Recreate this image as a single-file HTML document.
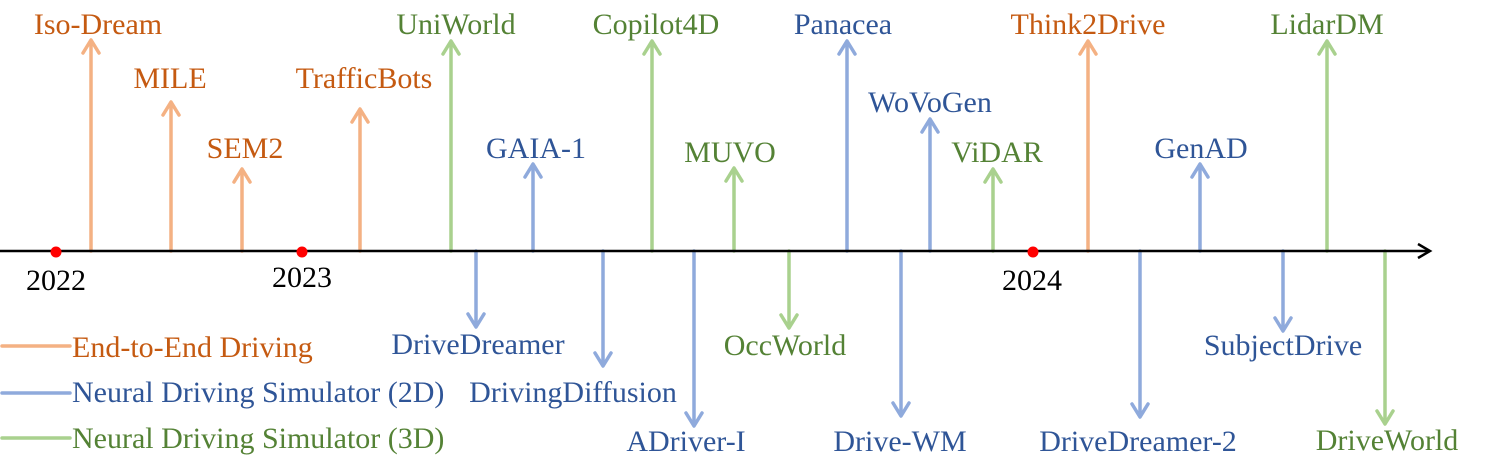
<!DOCTYPE html>
<html><head><style>html,body{margin:0;padding:0;background:#fff;}svg{display:block;}</style></head>
<body>
<svg width="1488" height="467" xmlns="http://www.w3.org/2000/svg" font-family="Liberation Serif, serif" font-size="30">
<g stroke-width="3.5" fill="none" stroke-linecap="round" stroke-linejoin="round">
<g stroke="#f4b183">
<path d="M91 251V42M83 53L91 40L99 53"/>
<path d="M171 251V104M163 115L171 102L179 115"/>
<path d="M242 251V171M234 182L242 169L250 182"/>
<path d="M360 251V111M352 122L360 109L368 122"/>
<path d="M1088 251V43M1080 54L1088 41L1096 54"/>
</g>
<g stroke="#a9d18e">
<path d="M451 251V43M443 54L451 41L459 54"/>
<path d="M652 251V43M644 54L652 41L660 54"/>
<path d="M734 251V170M726 181L734 168L742 181"/>
<path d="M993 251V171M985 182L993 169L1001 182"/>
<path d="M1327 251V43M1319 54L1327 41L1335 54"/>
<path d="M789 251V326M781 315L789 328L797 315"/>
<path d="M1385 251V422M1377 411L1385 424L1393 411"/>
</g>
<g stroke="#8faadc">
<path d="M533 251V166M525 177L533 164L541 177"/>
<path d="M847 251V43M839 54L847 41L855 54"/>
<path d="M930 251V121M922 132L930 119L938 132"/>
<path d="M1200 251V166M1192 177L1200 164L1208 177"/>
<path d="M476 251V325M468 314L476 327L484 314"/>
<path d="M603 251V364M595 353L603 366L611 353"/>
<path d="M694 251V424M686 413L694 426L702 413"/>
<path d="M901 251V414M893 403L901 416L909 403"/>
<path d="M1140 251V415M1132 404L1140 417L1148 404"/>
<path d="M1283 251V329M1275 318L1283 331L1291 318"/>
</g>
<path d="M2 346H70" stroke="#f4b183"/>
<path d="M2 393H70" stroke="#8faadc"/>
<path d="M2 438H70" stroke="#a9d18e"/>
</g>
<path d="M0 251H1428" stroke="#000" stroke-width="2.5"/>
<path d="M1418 244L1430 251L1418 258" stroke="#000" stroke-width="2.5" fill="none"/>
<circle cx="56" cy="252" r="5.5" fill="#ff0000"/>
<circle cx="302" cy="252" r="5.5" fill="#ff0000"/>
<circle cx="1033" cy="252" r="5.5" fill="#ff0000"/>
<g text-anchor="middle" fill="#000">
<text x="56" y="290">2022</text>
<text x="302" y="287">2023</text>
<text x="1032" y="290">2024</text>
</g>
<g text-anchor="middle" fill="#c55a11">
<text x="98" y="34">Iso-Dream</text>
<text x="170" y="88">MILE</text>
<text x="245" y="158">SEM2</text>
<text x="364" y="88">TrafficBots</text>
<text x="1088" y="34">Think2Drive</text>
</g>
<g text-anchor="middle" fill="#548235">
<text x="456" y="34">UniWorld</text>
<text x="656" y="34">Copilot4D</text>
<text x="730" y="162">MUVO</text>
<text x="997" y="162">ViDAR</text>
<text x="1327" y="34">LidarDM</text>
<text x="785" y="355">OccWorld</text>
<text x="1387" y="450">DriveWorld</text>
</g>
<g text-anchor="middle" fill="#2f5597">
<text x="536" y="158">GAIA-1</text>
<text x="843" y="34">Panacea</text>
<text x="930" y="112">WoVoGen</text>
<text x="1201" y="158">GenAD</text>
<text x="478" y="354">DriveDreamer</text>
<text x="573" y="402">DrivingDiffusion</text>
<text x="686" y="451">ADriver-I</text>
<text x="900" y="451">Drive-WM</text>
<text x="1138" y="451">DriveDreamer-2</text>
<text x="1283" y="355">SubjectDrive</text>
</g>
<text x="72" y="357" fill="#c55a11">End-to-End Driving</text>
<text x="72" y="402" fill="#2f5597">Neural Driving Simulator (2D)</text>
<text x="72" y="448" fill="#548235">Neural Driving Simulator (3D)</text>
</svg>
</body></html>
